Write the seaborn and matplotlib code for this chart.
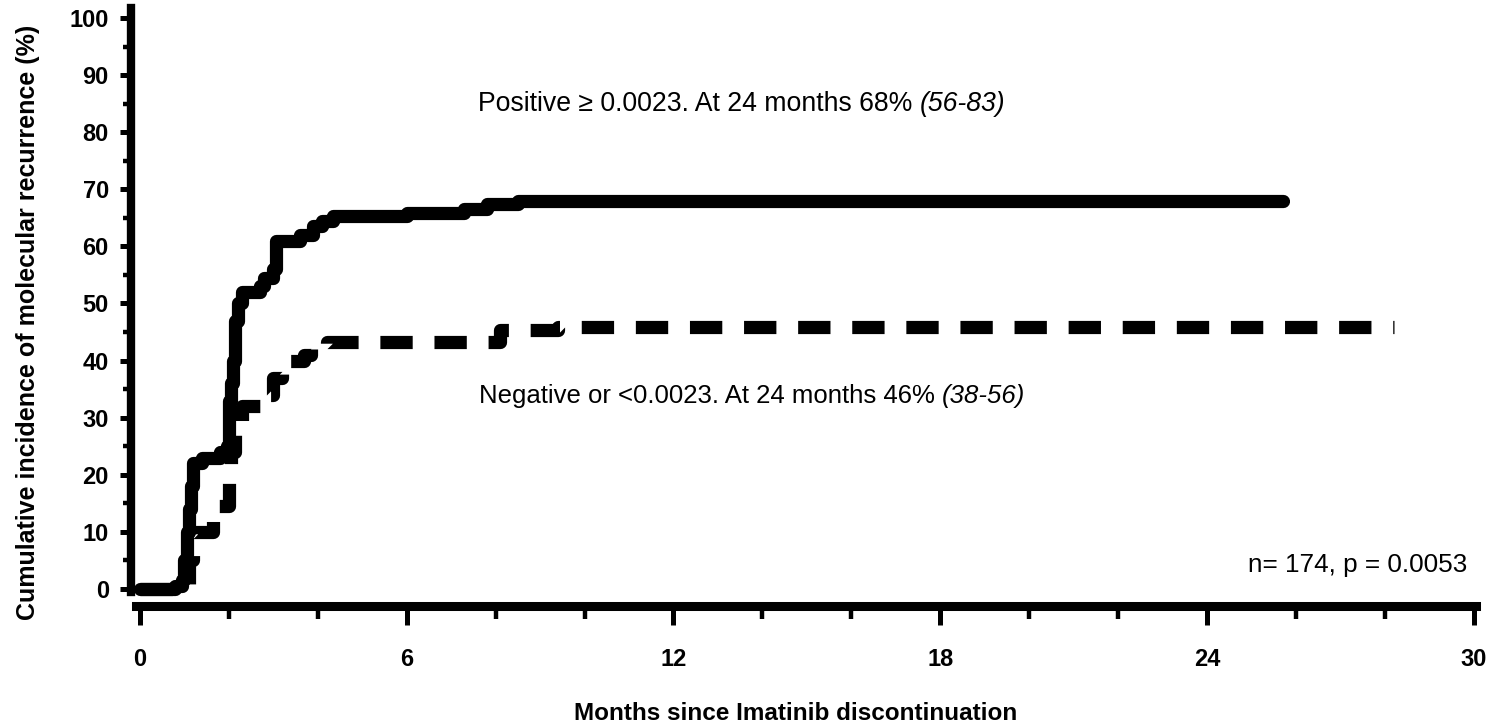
import matplotlib
matplotlib.use("Agg")
import matplotlib.pyplot as plt
import seaborn as sns
import numpy as np
import pandas as pd
from matplotlib.ticker import MultipleLocator

# ---------------- data ----------------
pos_months = [0, 0.8, 0.95, 1.0, 1.05, 1.1, 1.15, 1.2, 1.4, 1.8, 1.95, 2.0, 2.05, 2.1, 2.15, 2.2, 2.3,
              2.7, 2.8, 3.0, 3.05, 3.6, 3.9, 4.1, 4.35, 6.0, 7.3, 7.8, 8.5, 25.7]
pos_cuminc = [0, 0.5, 1.5, 5, 10, 14, 18, 22, 23, 24, 25, 33, 36, 40, 47, 50, 52,
              53, 54.5, 56, 61, 62, 63.5, 64.5, 65.3, 65.8, 66.5, 67.5, 68, 68]

neg_months = [0, 1.0, 1.1, 1.2, 1.65, 2.0, 2.05, 2.15, 2.3, 2.9, 3.0, 3.2, 3.7, 3.85, 4.2, 8.1, 9.4, 28.2]
neg_cuminc = [0, 0, 5, 10, 14.5, 21, 24, 28, 32, 34, 37, 40, 41, 42.5, 43.3, 45.4, 45.8, 45.8]

x_ticks = [0, 6, 12, 18, 24, 30]
y_ticks = [0, 10, 20, 30, 40, 50, 60, 70, 80, 90, 100]

pos_label = "Positive \u2265 0.0023. At 24 months 68% "
pos_ci = "(56-83)"
neg_label = "Negative or <0.0023. At 24 months 46% "
neg_ci = "(38-56)"
stats_label = "n= 174, p = 0.0053"
x_title = "Months since Imatinib discontinuation"
y_title = "Cumulative incidence of molecular recurrence (%)"

# ---------------- figure ----------------
sns.set_theme(style="white")
plt.rcParams['font.family'] = ['Liberation Sans', 'DejaVu Sans']
plt.rcParams['text.color'] = 'black'
plt.rcParams['xtick.color'] = 'black'
plt.rcParams['ytick.color'] = 'black'
plt.rcParams['axes.labelcolor'] = 'black'

W, H = 1495, 726
fig = plt.figure(figsize=(W / 100, H / 100), dpi=100)

# axes placement in pixels
left_px, right_px, top_px, bottom_px = 131, 1476, 8, 606
ax = fig.add_axes([left_px / W, 1 - bottom_px / H, (right_px - left_px) / W, (bottom_px - top_px) / H])

pos_df = pd.DataFrame({"month": pos_months, "ci": pos_cuminc})
neg_df = pd.DataFrame({"month": neg_months, "ci": neg_cuminc})

sns.lineplot(data=neg_df, x="month", y="ci", ax=ax, estimator=None, sort=False,
             color="black", lw=9.5, drawstyle="steps-post",
             dashes=False, linestyle=(0, (2.45, 1.65)), dash_capstyle="butt",
             solid_joinstyle="miter")
sns.lineplot(data=pos_df, x="month", y="ci", ax=ax, estimator=None, sort=False,
             color="black", lw=9.5, drawstyle="steps-post",
             solid_capstyle="round", solid_joinstyle="round")

ax.set_xlim(-0.2, 30.05)
ax.set_ylim(-2.98, 101.75)

for s in ["top", "right"]:
    ax.spines[s].set_visible(False)
ax.spines["left"].set_linewidth(6)
ax.spines["bottom"].set_linewidth(6.5)
ax.spines["left"].set_color("black")
ax.spines["bottom"].set_color("black")
ax.spines["left"].set_bounds(-0.6, 101.75)
ax.spines["bottom"].set_bounds(-0.08, 30.05)

ax.set_xticks(x_ticks)
ax.set_yticks(y_ticks)
ax.xaxis.set_minor_locator(MultipleLocator(2))
ax.yaxis.set_minor_locator(MultipleLocator(5))
ax.tick_params(axis="x", which="major", direction="out", length=14, width=3.6, color="black",
               pad=16, labelsize=17, labelcolor="black", bottom=True)
ax.tick_params(axis="x", which="minor", direction="out", length=9, width=3.2, color="black", bottom=True)
ax.tick_params(axis="y", which="major", direction="out", length=8, width=3.6, color="black",
               pad=8, labelsize=17, labelcolor="black", left=True)
ax.tick_params(axis="y", which="minor", direction="out", length=5.5, width=3.2, color="black", left=True)
for lab in ax.get_xticklabels() + ax.get_yticklabels():
    lab.set_fontweight("bold")

ax.set_xlabel("")
ax.set_ylabel("")
fig.text(796 / W, 1 - 714 / H, x_title, ha="center", va="center", fontsize=17.5,
         fontweight="bold", color="black")
fig.text(28 / W, 1 - 322 / H, y_title, ha="center", va="center", rotation=90, fontsize=18,
         fontweight="bold", color="black")

# annotations
fs = 18.8
t1 = ax.text(7.6, 85, pos_label, ha="left", va="center", fontsize=19.2, color="black")
fig.canvas.draw()
bb = t1.get_window_extent().transformed(ax.transData.inverted())
ax.text(bb.x1, 85, pos_ci, ha="left", va="center", fontsize=19.2, style="italic", color="black")
t2 = ax.text(7.62, 33.8, neg_label, ha="left", va="center", fontsize=18.5, color="black")
fig.canvas.draw()
bb2 = t2.get_window_extent().transformed(ax.transData.inverted())
ax.text(bb2.x1, 33.8, neg_ci, ha="left", va="center", fontsize=18.5, style="italic", color="black")
ax.text(29.85, 4.2, stats_label, ha="right", va="center", fontsize=fs, color="black")

fig.savefig("out.png", dpi=100, facecolor="white")
